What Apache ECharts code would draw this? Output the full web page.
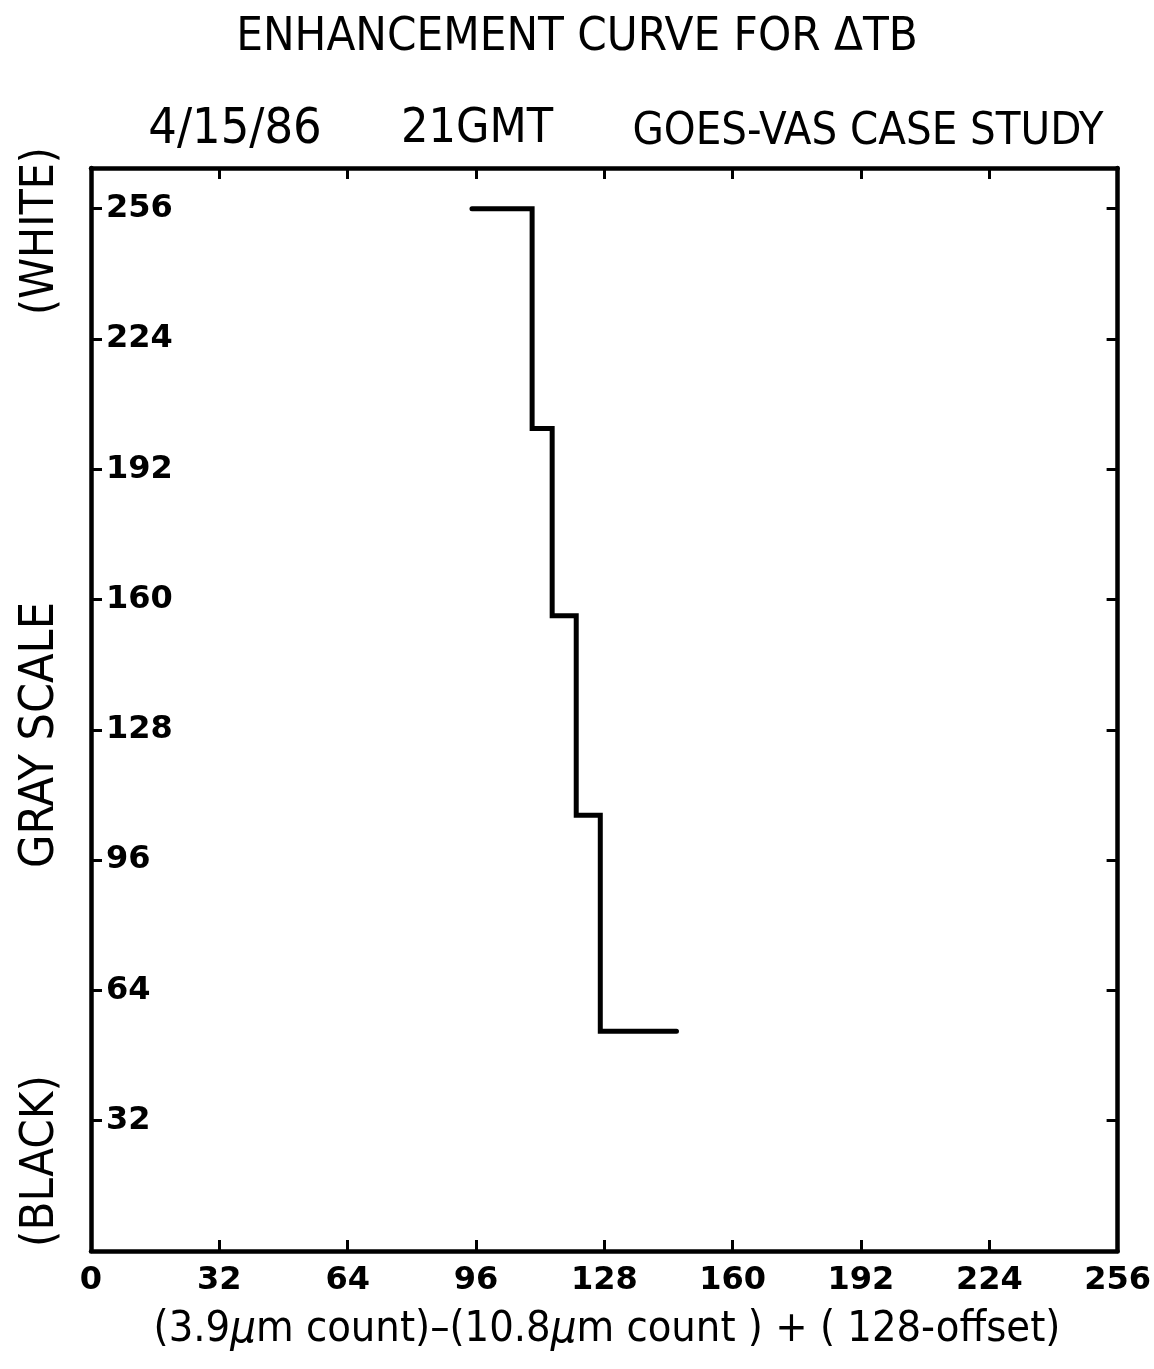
<!DOCTYPE html>
<html>
<head>
<meta charset="utf-8">
<script src="https://cdn.jsdelivr.net/npm/echarts@6/dist/echarts.min.js"></script>
<style>
  html, body { margin: 0; padding: 0; background: #fff; }
  #chart { width: 1154px; height: 1369px; }
</style>
</head>
<body>
<div id="chart"></div>
<script>
// Enhancement steps: each gray level applies from lowerBound to upperBound (count units)
const lowerBound = [95, 110, 115, 121, 127];
const upperBound = [110, 115, 121, 127, 146];
const grayLevel  = [256, 202, 156, 107, 54];

// Axis ticks
const xTicks = [0, 32, 64, 96, 128, 160, 192, 224, 256];
const yTicks = [32, 64, 96, 128, 160, 192, 224, 256];

const titleText = 'ENHANCEMENT CURVE FOR \u0394TB';
const dateText = '4/15/86';
const timeText = '21GMT';
const caseText = 'GOES-VAS CASE STUDY';

const FONT = '"DejaVu Sans Condensed", "DejaVu Sans", sans-serif';
const NUM_FONT = '"DejaVu Sans", sans-serif';
const INK = '#000';

// Staircase: horizontal run at each level, vertical drop between levels
const curve = [];
for (let i = 0; i < grayLevel.length; i++) {
  curve.push([lowerBound[i], grayLevel[i]]);
  curve.push([upperBound[i], grayLevel[i]]);
}

const chart = echarts.init(document.getElementById('chart'), null, { renderer: 'canvas' });

const axisLine = { show: true, onZero: false, lineStyle: { color: INK, width: 4.5 } };
const tickIn = { show: true, inside: true, length: 11, lineStyle: { color: INK, width: 3 } };

chart.setOption({
  backgroundColor: '#fff',
  animation: false,
  grid: { left: 91, right: 31, top: 168, bottom: 118 },
  xAxis: [
    {
      type: 'value', min: 0, max: 256, interval: 32, position: 'bottom',
      axisLine, axisTick: tickIn, splitLine: { show: false },
      axisLabel: {
        color: INK, fontFamily: NUM_FONT, fontSize: 32, fontWeight: 'bold', margin: 14,
        showMinLabel: true, showMaxLabel: true,
        formatter: v => xTicks.includes(v) ? String(v) : ''
      }
    },
    {
      type: 'value', min: 0, max: 256, interval: 32, position: 'top',
      axisLine, axisTick: tickIn, splitLine: { show: false }, axisLabel: { show: false }
    }
  ],
  yAxis: [
    {
      type: 'value', min: 0, max: 266, interval: 32, position: 'left',
      axisLine, axisTick: tickIn, splitLine: { show: false },
      axisLabel: {
        inside: true, color: INK, fontFamily: NUM_FONT, fontSize: 32, fontWeight: 'bold', margin: 15,
        showMinLabel: false, showMaxLabel: false,
        formatter: v => yTicks.includes(v) ? String(v) : ''
      }
    },
    {
      type: 'value', min: 0, max: 266, interval: 32, position: 'right',
      axisLine, axisTick: tickIn, splitLine: { show: false }, axisLabel: { show: false }
    }
  ],
  series: [{
    type: 'line',
    data: curve,
    symbol: 'none',
    lineStyle: { color: INK, width: 5, join: 'miter', cap: 'round' },
    z: 5
  }],
  graphic: [
    { type: 'text', x: 577, y: 38,
      style: { text: titleText, font: '47px ' + FONT, fill: INK, align: 'center', verticalAlign: 'middle' } },
    { type: 'text', x: 235, y: 130,
      style: { text: dateText, font: '50px ' + FONT, fill: INK, align: 'center', verticalAlign: 'middle' } },
    { type: 'text', x: 477, y: 130,
      style: { text: timeText, font: '48px ' + FONT, fill: INK, align: 'center', verticalAlign: 'middle' } },
    { type: 'text', x: 868, y: 132,
      style: { text: caseText, font: '45px ' + FONT, fill: INK, align: 'center', verticalAlign: 'middle' } },
    // Left-side vertical captions
    { type: 'text', x: 41, y: 231, rotation: Math.PI / 2,
      style: { text: '(WHITE)', font: '46px ' + FONT, fill: INK, align: 'center', verticalAlign: 'middle' } },
    { type: 'text', x: 41, y: 735, rotation: Math.PI / 2,
      style: { text: 'GRAY SCALE', font: '48px ' + FONT, fill: INK, align: 'center', verticalAlign: 'middle' } },
    { type: 'text', x: 41, y: 1161, rotation: Math.PI / 2,
      style: { text: '(BLACK)', font: '47px ' + FONT, fill: INK, align: 'center', verticalAlign: 'middle' } },
    // X-axis caption
    { type: 'text', x: 607, y: 1330,
      style: {
        text: '(3.9{mu|\u03bc}m count)\u2013(10.8{mu|\u03bc}m count ) + ( 128-offset)',
        rich: { mu: { font: 'italic 45px ' + FONT, fill: INK } },
        font: '43px ' + FONT, fill: INK, align: 'center', verticalAlign: 'middle'
      } }
  ]
});
</script>
</body>
</html>
